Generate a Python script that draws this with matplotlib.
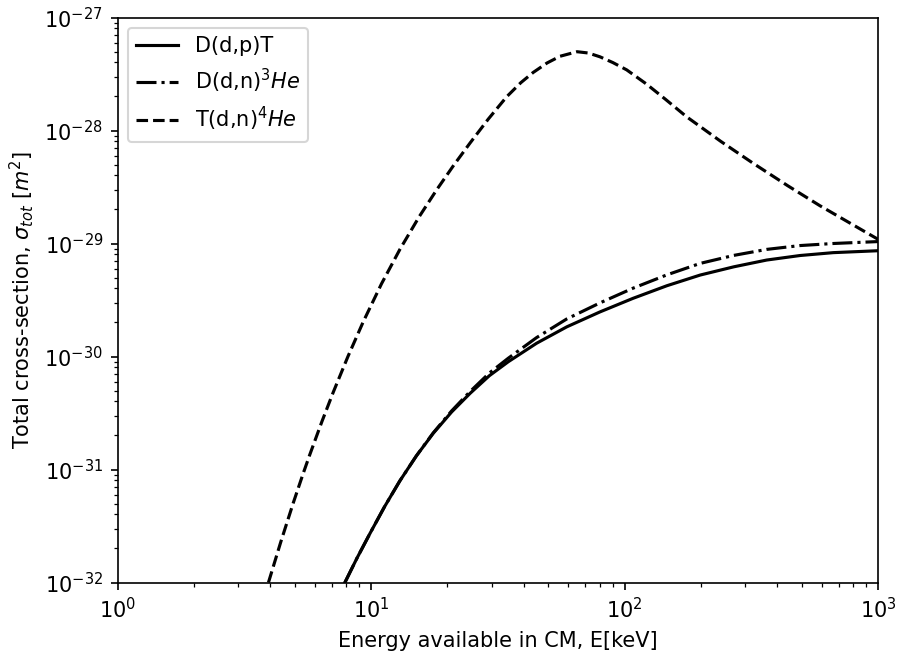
import matplotlib
matplotlib.use('agg')
import matplotlib.pyplot as plt

# values (energy in keV, cross-section in m^2)
e_ddp = [7.89, 8.8, 9.91, 11.3, 13.0, 15.1, 17.6, 20.8, 24.6, 29.3, 34.8,
         45, 59.2, 80, 108, 147, 199, 270, 364, 493, 666, 1000]
s_ddp = [1.0e-32, 1.64e-32, 2.72e-32, 4.67e-32, 7.94e-32, 1.32e-31, 2.09e-31,
         3.23e-31, 4.72e-31, 6.76e-31, 8.99e-31, 1.31e-30, 1.83e-30, 2.48e-30,
         3.27e-30, 4.23e-30, 5.26e-30, 6.22e-30, 7.14e-30, 7.83e-30, 8.30e-30,
         8.63e-30]

e_ddn = [7.89, 8.8, 9.91, 11.3, 13.0, 15.1, 17.6, 20.8, 24.6, 29.3, 34.8,
         45, 59.2, 80, 108, 147, 199, 270, 364, 493, 666, 1000]
s_ddn = [1.0e-32, 1.64e-32, 2.72e-32, 4.67e-32, 7.94e-32, 1.32e-31, 2.11e-31,
         3.30e-31, 4.90e-31, 7.14e-31, 9.66e-31, 1.47e-30, 2.15e-30, 2.98e-30,
         4.02e-30, 5.28e-30, 6.67e-30, 7.85e-30, 8.87e-30, 9.59e-30, 1.00e-29,
         1.04e-29]

e_dt = [3.94, 4.4, 4.94, 5.39, 5.74, 6.4, 7.1, 8.11, 9.32, 11.0, 13.0, 15.5,
        18.2, 21.2, 24.6, 29, 34.3, 39, 43.6, 49.5, 55.7, 65, 72, 80, 90, 102,
        122, 145, 176, 240, 322, 440, 590, 1000]
s_dt = [1.0e-32, 2.26e-32, 5.09e-32, 9.10e-32, 1.36e-31, 2.65e-31, 4.84e-31,
        1.0e-30, 2.03e-30, 4.40e-30, 8.87e-30, 1.73e-29, 3.01e-29, 4.93e-29,
        7.76e-29, 1.26e-28, 1.99e-28, 2.65e-28, 3.26e-28, 3.96e-28, 4.54e-28,
        4.98e-28, 4.85e-28, 4.49e-28, 3.99e-28, 3.44e-28, 2.58e-28, 1.89e-28,
        1.32e-28, 8.0e-29, 5.12e-29, 3.25e-29, 2.16e-29, 1.09e-29]


def main():
    fig = plt.figure(figsize=(898 / 150, 651 / 150), dpi=150)
    ax = fig.add_axes([117.5 / 898, (651 - 582.5) / 651,
                       (878 - 117.5) / 898, (582.5 - 17.5) / 651])
    ax.loglog(e_ddp, s_ddp, 'k-', label='D(d,p)T')
    ax.loglog(e_ddn, s_ddn, 'k-.', label=r'D(d,n)$^3He$')
    ax.loglog(e_dt, s_dt, 'k--', label=r'T(d,n)$^4He$')
    ax.set_xlim(1, 1000)
    ax.set_ylim(1e-32, 1e-27)
    ax.set_xlabel('Energy available in CM, E[keV]')
    ax.set_ylabel(r'Total cross-section, $\sigma_{tot}$ $[m^2]$')
    ax.legend(loc='upper left')
    fig.savefig('out.png', dpi=150)


if __name__ == '__main__':
    main()
